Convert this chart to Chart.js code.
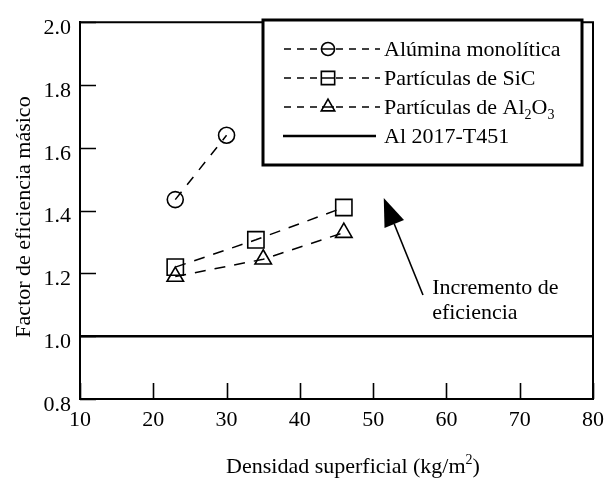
<!DOCTYPE html>
<html lang="es">
<head>
<meta charset="utf-8">
<title>Factor de eficiencia másico</title>
<script src="https://cdn.jsdelivr.net/npm/chart.js@4.4.1/dist/chart.umd.min.js"></script>
<style>
  html, body { margin: 0; padding: 0; background: #ffffff; }
  #chart { display: block; }
</style>
</head>
<body>
<canvas id="chart" width="612" height="479"></canvas>
<script>
// Densidad superficial (kg/m2) vs. factor de eficiencia másico
const densidadAlumina = [23, 30];
const factorAlumina   = [1.435, 1.64];

const densidadSiC = [23, 34, 46];
const factorSiC   = [1.22, 1.307, 1.41];

const densidadAl2O3 = [23, 35, 46];
const factorAl2O3   = [1.19, 1.245, 1.33];

const densidadAl2017 = [10, 80];
const factorAl2017   = [1.0, 1.0];

// "_d" marks a subscript digit, "^d" a superscript digit
const seriesLabels = ['Alúmina monolítica', 'Partículas de SiC', 'Partículas de Al_2O_3', 'Al 2017-T451'];

const xTickValues = [10, 20, 30, 40, 50, 60, 70, 80];
const yTickValues = [0.8, 1.0, 1.2, 1.4, 1.6, 1.8, 2.0];

const xTitle = 'Densidad superficial (kg/m^2)';
const yTitle = 'Factor de eficiencia másico';

// Arrow and note, placed in data units
const noteLines = ['Incremento de', 'eficiencia'];
const noteAnchor = { x: 58.05, y: 1.134 };
const arrowTail  = { x: 56.8,  y: 1.131 };
const arrowTip   = { x: 51.45, y: 1.44 };

const FONT = '"Liberation Serif", "Times New Roman", serif';
const FS = 22;
const INK = '#000000';

function pts(xs, ys) { return xs.map((x, i) => ({ x: x, y: ys[i] })); }

// Draws text that may contain _d (subscript) or ^d (superscript) digits
function richParts(text) {
  const parts = [];
  let buf = '';
  for (let i = 0; i < text.length; i++) {
    const c = text[i];
    if ((c === '_' || c === '^') && i + 1 < text.length) {
      if (buf) { parts.push({ t: buf, k: 'n' }); buf = ''; }
      parts.push({ t: text[i + 1], k: c === '_' ? 'sub' : 'sup' });
      i++;
    } else buf += c;
  }
  if (buf) parts.push({ t: buf, k: 'n' });
  return parts;
}
function richWidth(ctx, text, size) {
  let w = 0;
  for (const p of richParts(text)) {
    ctx.font = (p.k === 'n' ? size : Math.round(size * 0.64)) + 'px ' + FONT;
    w += ctx.measureText(p.t).width;
  }
  return w;
}
function drawRich(ctx, text, x, y, size) {
  ctx.textBaseline = 'alphabetic';
  ctx.textAlign = 'left';
  let cx = x;
  for (const p of richParts(text)) {
    const s = p.k === 'n' ? size : Math.round(size * 0.64);
    ctx.font = s + 'px ' + FONT;
    const dy = p.k === 'sub' ? size * 0.24 : (p.k === 'sup' ? -size * 0.42 : 0);
    ctx.fillText(p.t, cx, y + dy);
    cx += ctx.measureText(p.t).width;
  }
}

const frameAndNotes = {
  id: 'frameAndNotes',
  afterDatasetsDraw(chart) {
    const ctx = chart.ctx;
    const a = chart.chartArea;
    const xs = chart.scales.x, ys = chart.scales.y;
    ctx.save();
    ctx.strokeStyle = INK;
    ctx.fillStyle = INK;

    // top and right frame
    ctx.lineWidth = 2;
    ctx.beginPath();
    ctx.moveTo(a.left, a.top);
    ctx.lineTo(a.right, a.top);
    ctx.lineTo(a.right, a.bottom);
    ctx.stroke();

    // inward tick marks
    ctx.lineWidth = 1.6;
    ctx.beginPath();
    yTickValues.forEach(v => {
      const py = Math.round(ys.getPixelForValue(v)) + 0.5;
      ctx.moveTo(a.left, py); ctx.lineTo(a.left + 16, py);
    });
    xTickValues.forEach(v => {
      const px = Math.round(xs.getPixelForValue(v)) + 0.5;
      ctx.moveTo(px, a.bottom); ctx.lineTo(px, a.bottom - 16);
    });
    ctx.stroke();

    // arrow
    const tx = xs.getPixelForValue(arrowTail.x), ty = ys.getPixelForValue(arrowTail.y);
    const hx = xs.getPixelForValue(arrowTip.x),  hy = ys.getPixelForValue(arrowTip.y);
    const len = Math.hypot(hx - tx, hy - ty);
    const ux = (hx - tx) / len, uy = (hy - ty) / len;
    const headLen = 28, headHalf = 10.5;
    const bx = hx - ux * headLen, by = hy - uy * headLen;
    ctx.lineWidth = 1.6;
    ctx.beginPath();
    ctx.moveTo(tx, ty); ctx.lineTo(bx, by);
    ctx.stroke();
    ctx.beginPath();
    ctx.moveTo(hx, hy);
    ctx.lineTo(bx - uy * headHalf, by + ux * headHalf);
    ctx.lineTo(bx + uy * headHalf, by - ux * headHalf);
    ctx.closePath();
    ctx.fill();

    // note
    const nx = xs.getPixelForValue(noteAnchor.x), ny = ys.getPixelForValue(noteAnchor.y);
    noteLines.forEach((t, i) => drawRich(ctx, t, nx, ny + i * 25, FS));

    // axis titles
    const xw = richWidth(ctx, xTitle, FS);
    drawRich(ctx, xTitle, 353 - xw / 2, 473, FS);
    ctx.save();
    ctx.translate(30, 217);
    ctx.rotate(-Math.PI / 2);
    const yw = richWidth(ctx, yTitle, FS);
    drawRich(ctx, yTitle, -yw / 2, 0, FS);
    ctx.restore();

    // legend
    const box = { left: 263, top: 20, right: 582, bottom: 165 };
    ctx.fillStyle = '#ffffff';
    ctx.fillRect(box.left, box.top, box.right - box.left, box.bottom - box.top);
    ctx.fillStyle = INK;
    ctx.lineWidth = 3;
    ctx.strokeRect(box.left, box.top, box.right - box.left, box.bottom - box.top);

    const rowY = [49, 78, 107, 136];
    chart.data.datasets.forEach((ds, i) => {
      const y = rowY[i];
      ctx.save();
      ctx.lineWidth = ds.borderWidth;
      ctx.strokeStyle = INK;
      if (ds.pointRadius > 0) {
        ctx.setLineDash([7, 6]);
        ctx.beginPath();
        ctx.moveTo(284, y); ctx.lineTo(380, y);
        ctx.stroke();
        ctx.setLineDash([]);
        ctx.fillStyle = '#ffffff';
        ctx.lineWidth = ds.pointBorderWidth;
        Chart.helpers.drawPoint(ctx, {
          pointStyle: ds.pointStyle,
          radius: ds.pointRadius * 0.82,
          rotation: 0,
          borderWidth: ds.pointBorderWidth
        }, 328, y);
        ctx.lineWidth = ds.borderWidth;
        ctx.beginPath();
        ctx.moveTo(322, y); ctx.lineTo(334, y);
        ctx.stroke();
      } else {
        ctx.beginPath();
        ctx.moveTo(283, y); ctx.lineTo(376, y);
        ctx.stroke();
      }
      ctx.restore();
      ctx.fillStyle = INK;
      drawRich(ctx, ds.label, 384, y + 7, FS);
    });
    ctx.restore();
  }
};

function serie(label, xs, ys, style, radius, dash) {
  return {
    label: label,
    data: pts(xs, ys),
    showLine: true,
    borderColor: INK,
    borderWidth: 1.5,
    borderDash: dash,
    pointStyle: style,
    pointRadius: radius,
    pointHoverRadius: radius,
    pointBorderColor: INK,
    pointBackgroundColor: 'rgba(0,0,0,0)',
    pointBorderWidth: 1.6
  };
}

function start() {
  const ctx = document.getElementById('chart').getContext('2d');
  const tickFont = { family: FONT, size: FS };
  new Chart(ctx, {
    type: 'scatter',
    data: {
      datasets: [
        serie(seriesLabels[0], densidadAlumina, factorAlumina, 'circle', 8, [10, 9]),
        serie(seriesLabels[1], densidadSiC, factorSiC, 'rect', 11.5, [11, 9]),
        serie(seriesLabels[2], densidadAl2O3, factorAl2O3, 'triangle', 9.5, [11, 9]),
        {
          label: seriesLabels[3],
          data: pts(densidadAl2017, factorAl2017),
          showLine: true,
          borderColor: INK,
          borderWidth: 2.5,
          pointRadius: 0,
          pointHoverRadius: 0
        }
      ]
    },
    options: {
      responsive: false,
      animation: false,
      devicePixelRatio: 1,
      events: [],
      layout: { padding: { top: 15, right: 12, left: 0, bottom: 0 } },
      plugins: { legend: { display: false }, tooltip: { enabled: false } },
      scales: {
        x: {
          type: 'linear',
          min: xTickValues[0],
          max: xTickValues[xTickValues.length - 1],
          afterBuildTicks: s => { s.ticks = xTickValues.map(v => ({ value: v })); },
          afterFit: s => { s.height = 80; },
          ticks: { font: tickFont, color: INK, padding: 8, maxRotation: 0, callback: v => String(v) },
          grid: { display: false, drawTicks: false },
          border: { display: true, color: INK, width: 2 }
        },
        y: {
          type: 'linear',
          min: yTickValues[0],
          max: yTickValues[yTickValues.length - 1],
          afterBuildTicks: s => { s.ticks = yTickValues.map(v => ({ value: v })); },
          afterFit: s => { s.width = 80; },
          ticks: { font: tickFont, color: INK, padding: 9, labelOffset: 6, callback: v => Number(v).toFixed(1) },
          grid: { display: false, drawTicks: false },
          border: { display: true, color: INK, width: 2 }
        }
      }
    },
    plugins: [frameAndNotes]
  });
}

if (document.fonts && document.fonts.load) {
  document.fonts.load(FS + 'px "Liberation Serif"').then(start, start);
} else {
  start();
}
</script>
</body>
</html>
